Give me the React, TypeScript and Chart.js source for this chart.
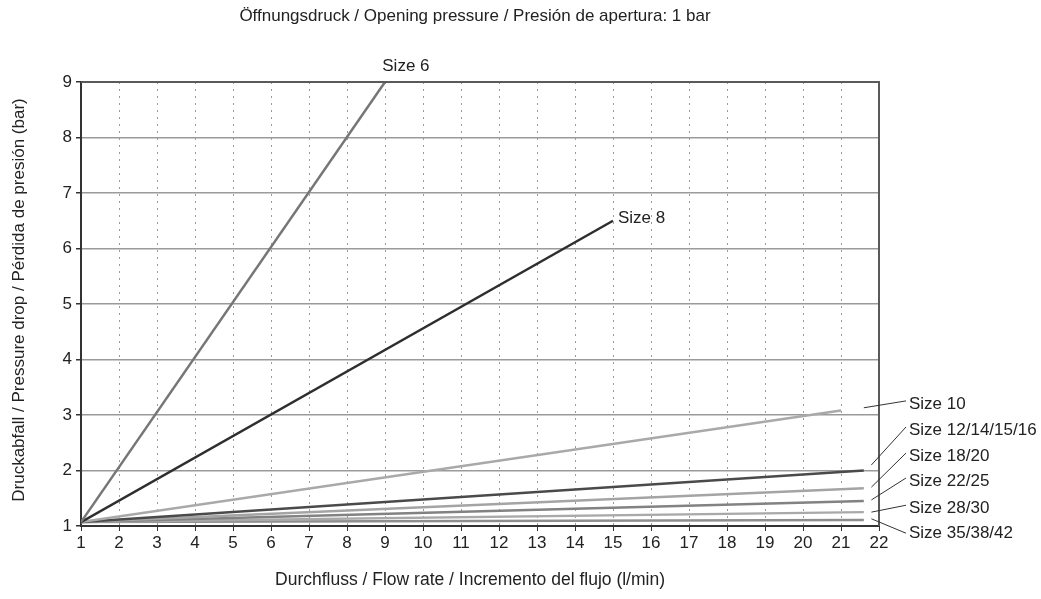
import React, { useEffect, useRef } from "react";
import { Chart, registerables } from "chart.js";

Chart.register(...registerables);

const seriesNames = [
  "Size 6",
  "Size 8",
  "Size 10",
  "Size 12/14/15/16",
  "Size 18/20",
  "Size 22/25",
  "Size 28/30",
  "Size 35/38/42",
];
const startFlow = 1;
const startPressure = 1.07;
const endFlow = [9, 15, 21, 21.6, 21.6, 21.6, 21.6, 21.6];
const endPressure = [9, 6.5, 3.08, 2.0, 1.68, 1.45, 1.25, 1.11];
const seriesColors = ["#767676", "#2e2e2e", "#a9a9a9", "#4a4a4a", "#a4a4a4", "#828282", "#a9a9a9", "#8e8e8e"];

const xTicks = Array.from({ length: 22 }, (_, i) => i + 1);
const yTicks = [1, 2, 3, 4, 5, 6, 7, 8, 9];

const titleText = "Öffnungsdruck / Opening pressure / Presión de apertura: 1 bar";
const xTitle = "Durchfluss / Flow rate / Incremento del flujo (l/min)";
const yTitle = "Druckabfall / Pressure drop / Pérdida de presión (bar)";

// right-hand label callouts (indexes 2..7)
const calloutIndex = [2, 3, 4, 5, 6, 7];
const calloutTextPressure = [3.2, 2.73, 2.26, 1.81, 1.32, 0.87];
const calloutStartFlow = [21.6, 21.8, 21.8, 21.8, 21.8, 21.8];
const calloutStartPressure = [3.13, 2.1, 1.7, 1.47, 1.25, 1.13];

const FONT = "'Liberation Sans', Arial, Helvetica, sans-serif";

const annotationPlugin = {
  id: "annotations",
  afterDatasetsDraw(chart: any) {
    const { ctx, chartArea, scales } = chart;
    const x = scales.x;
    const y = scales.y;
    ctx.save();
    // frame top & right
    ctx.strokeStyle = "#5a5a5a";
    ctx.lineWidth = 2;
    ctx.beginPath();
    ctx.moveTo(chartArea.left, chartArea.top);
    ctx.lineTo(chartArea.right, chartArea.top);
    ctx.lineTo(chartArea.right, chartArea.bottom);
    ctx.stroke();

    ctx.fillStyle = "#222";
    ctx.font = `17px ${FONT}`;
    ctx.textBaseline = "middle";
    // Size 6
    ctx.textAlign = "center";
    ctx.fillText(seriesNames[0], x.getPixelForValue(9.55), chartArea.top - 16);
    // Size 8
    ctx.textAlign = "left";
    ctx.fillText(seriesNames[1], x.getPixelForValue(endFlow[1]) + 5, y.getPixelForValue(endPressure[1]) - 2);

    const textX = chartArea.right + 30;
    ctx.strokeStyle = "#333";
    ctx.lineWidth = 1;
    calloutIndex.forEach((si, k) => {
      const ty = y.getPixelForValue(calloutTextPressure[k]);
      ctx.fillText(seriesNames[si], textX, ty);
      ctx.beginPath();
      ctx.moveTo(x.getPixelForValue(calloutStartFlow[k]), y.getPixelForValue(calloutStartPressure[k]));
      ctx.lineTo(textX - 3, ty - (k === 5 ? 0 : 3));
      ctx.stroke();
    });

    // titles
    ctx.fillStyle = "#222";
    ctx.textAlign = "center";
    ctx.font = `17px ${FONT}`;
    ctx.fillText(titleText, 475, 16);
    ctx.font = `17.5px ${FONT}`;
    ctx.fillText(xTitle, 470, 580);
    ctx.font = `17px ${FONT}`;
    ctx.translate(19, 300);
    ctx.rotate(-Math.PI / 2);
    ctx.fillText(yTitle, 0, 0);
    ctx.restore();
  },
};

export default function App() {
  const ref = useRef<HTMLCanvasElement | null>(null);
  useEffect(() => {
    document.body.style.margin = "0";
    const canvas = ref.current!;
    const datasets = seriesNames.map((name, i) => ({
      label: name,
      data: [
        { x: startFlow, y: startPressure },
        { x: endFlow[i], y: endPressure[i] },
      ],
      borderColor: seriesColors[i],
      backgroundColor: seriesColors[i],
      borderWidth: 2.5,
      pointRadius: 0,
      fill: false,
      tension: 0,
    }));
    const chart = new Chart(canvas, {
      type: "line",
      data: { datasets },
      options: {
        responsive: false,
        animation: false,
        devicePixelRatio: 1,
        layout: { padding: { top: 82, right: 162, left: 0, bottom: 0 } },
        plugins: {
          legend: { display: false },
          tooltip: { enabled: false },
          title: { display: false },
        },
        scales: {
          x: {
            type: "linear",
            min: 1,
            max: 22,
            afterFit: (s: any) => {
              s.height = 73;
            },
            afterBuildTicks: (s: any) => {
              s.ticks = xTicks.map((v) => ({ value: v }));
            },
            ticks: { color: "#222", font: { family: FONT, size: 17 }, padding: 2, maxRotation: 0, autoSkip: false },
            grid: { color: "#9a9a9a", lineWidth: 1, tickLength: 5, tickColor: "#333" },
            border: { color: "#333", width: 2, dash: [2, 5] },
          },
          y: {
            type: "linear",
            min: 1,
            max: 9,
            afterFit: (s: any) => {
              s.width = 81;
            },
            afterBuildTicks: (s: any) => {
              s.ticks = yTicks.map((v) => ({ value: v }));
            },
            ticks: { color: "#222", font: { family: FONT, size: 17 }, padding: 4 },
            grid: { color: "#9a9a9a", lineWidth: 1.5, tickLength: 5, tickColor: "#333" },
            border: { color: "#333", width: 2 },
          },
        },
      },
      plugins: [annotationPlugin],
    } as any);
    return () => chart.destroy();
  }, []);
  return (
    <div style={{ width: 1041, height: 599, background: "#fff" }}>
      <canvas ref={ref} width={1041} height={599} style={{ display: "block" }} />
    </div>
  );
}
